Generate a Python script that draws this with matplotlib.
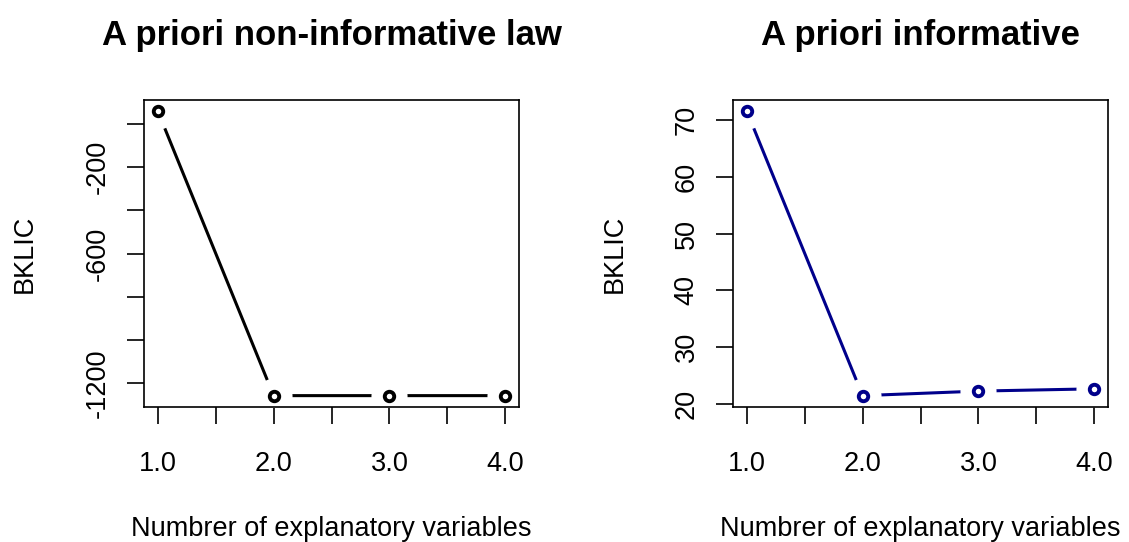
import matplotlib
matplotlib.use("Agg")
import matplotlib.pyplot as plt

plt.rcParams["font.family"] = ["Liberation Sans", "DejaVu Sans"]

# data
n_vars = [1, 2, 3, 4]
bklic_noninf = [57, -1257, -1257, -1257]
bklic_inf = [71.6, 21.4, 22.2, 22.6]

x_ticks = [1.0, 1.5, 2.0, 2.5, 3.0, 3.5, 4.0]
x_ticklabels = ["1.0", "", "2.0", "", "3.0", "", "4.0"]
left_yticks = [0, -200, -400, -600, -800, -1000, -1200]
left_yticklabels = ["", "-200", "", "-600", "", "", "-1200"]
right_yticks = [20, 30, 40, 50, 60, 70]
right_yticklabels = ["20", "30", "40", "50", "60", "70"]

titles = ["A priori non-informative law", "A priori informative"]
xlabel = "Numbrer of explanatory variables"
ylabel = "BKLIC"

W, H = 1129, 542
fig = plt.figure(figsize=(W / 100, H / 100), dpi=100)

# axes boxes in pixels: left, right, top, bottom, ylabel x
boxes = [(144, 519, 100, 407, 25), (733, 1108, 100, 407, 615)]
series = [bklic_noninf, bklic_inf]
colors = ["black", "#00008B"]
yticks = [left_yticks, right_yticks]
yticklabels = [left_yticklabels, right_yticklabels]

for (l, r, t, b, ylx), y, col, yt, ytl, title in zip(boxes, series, colors,
                                                       yticks, yticklabels,
                                                       titles):
    ax = fig.add_axes([l / W, 1 - b / H, (r - l) / W, (b - t) / H])
    # R type="b": line with gaps around the points
    ax.plot(n_vars, y, color=col, linewidth=2.2, zorder=2)
    ax.plot(n_vars, y, linestyle="none", marker="o", markersize=26,
            markerfacecolor="white", markeredgecolor="none", zorder=2.2)
    ax.plot(n_vars, y, linestyle="none", marker="o", markersize=6.8,
            markerfacecolor="none", markeredgecolor=col, markeredgewidth=2.8,
            zorder=3)
    ax.margins(0.04)

    ax.set_xticks(x_ticks)
    ax.set_xticklabels(x_ticklabels)
    ax.set_yticks(yt)
    ax.set_yticklabels(ytl)
    ax.tick_params(length=12, width=1.2, labelsize=19.5, direction="out")
    ax.tick_params(axis="x", pad=20)
    ax.tick_params(axis="y", pad=12, labelrotation=90)
    for lbl in ax.get_yticklabels():
        lbl.set_va("center")
    for sp in ax.spines.values():
        sp.set_linewidth(1.2)

    ax.set_xlabel(xlabel, fontsize=19.5, va="center")
    ax.xaxis.set_label_coords(0.5, (b - 528.5) / (b - t))
    ax.set_ylabel(ylabel, fontsize=19.5, va="center")
    ax.yaxis.set_label_coords((ylx - l) / (r - l), 0.5)
    ax.text(0.5, (b - 35) / (b - t), title, transform=ax.transAxes,
            ha="center", va="center", fontsize=25, fontweight="bold")

fig.savefig("out.png", dpi=100)
